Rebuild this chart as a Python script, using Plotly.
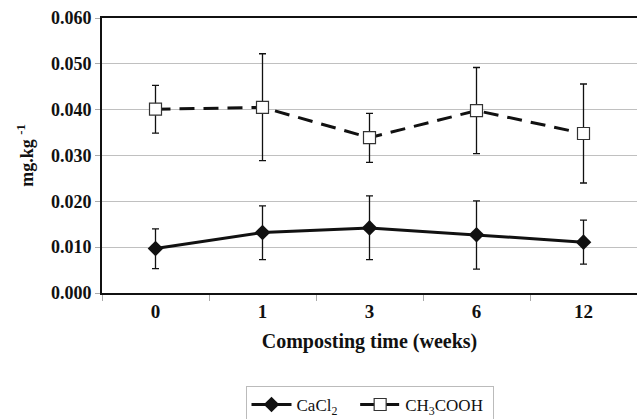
import plotly.graph_objects as go

categories = ["0", "1", "3", "6", "12"]
cacl2 = [0.0097, 0.0132, 0.0142, 0.0127, 0.0111]
cacl2_up = [0.0140, 0.0190, 0.0212, 0.0201, 0.0159]
cacl2_lo = [0.0053, 0.0073, 0.0073, 0.0052, 0.0063]
ch3 = [0.0401, 0.0405, 0.0339, 0.0398, 0.0348]
ch3_up = [0.0453, 0.0522, 0.0392, 0.0492, 0.0456]
ch3_lo = [0.0349, 0.0289, 0.0285, 0.0304, 0.0240]
yticks = [0.0, 0.01, 0.02, 0.03, 0.04, 0.05, 0.06]

serif = "Liberation Serif, Times New Roman, serif"

fig = go.Figure()
fig.add_trace(go.Scatter(
    x=categories, y=cacl2, name="CaCl<sub>2</sub>&nbsp;&nbsp;&nbsp;", mode="lines+markers",
    line=dict(color="#111111", width=3),
    marker=dict(symbol="diamond", size=12, color="#111111"),
    error_y=dict(type="data", symmetric=False,
                 array=[u - v for u, v in zip(cacl2_up, cacl2)],
                 arrayminus=[v - l for v, l in zip(cacl2, cacl2_lo)],
                 color="#111111", thickness=1.3, width=3.5),
))
fig.add_trace(go.Scatter(
    x=categories, y=ch3, name="CH<sub>3</sub>COOH&nbsp;", mode="lines+markers",
    line=dict(color="#111111", width=3, dash="15px,9px"),
    marker=dict(symbol="square", size=12, color="white",
                line=dict(color="#333333", width=1.2)),
    error_y=dict(type="data", symmetric=False,
                 array=[u - v for u, v in zip(ch3_up, ch3)],
                 arrayminus=[v - l for v, l in zip(ch3, ch3_lo)],
                 color="#111111", thickness=1.3, width=3.5),
))

fig.update_layout(
    width=637, height=419,
    margin=dict(l=102, r=0, t=18, b=126, autoexpand=False),
    paper_bgcolor="white", plot_bgcolor="white",
    font=dict(family=serif, color="#111111"),
    showlegend=True,
    legend=dict(orientation="h", x=0.5, xanchor="center", y=-0.338, yanchor="top",
                bordercolor="#bbbbbb", borderwidth=1,
                font=dict(size=17, family=serif, color="#111111"),
                itemwidth=40, tracegroupgap=0),
    xaxis=dict(
        type="category", range=[-0.5, 4.5],
        tickson="boundaries", ticks="outside", ticklen=6, tickcolor="#aaaaaa",
        showgrid=False, showline=True, linecolor="#111111", linewidth=2, mirror=True,
        tickfont=dict(size=19, family=serif, color="#111111", weight="bold"),
        title=dict(text="<b>Composting time (weeks)</b>", font=dict(size=20, family=serif),
                   standoff=13),
        automargin=False,
    ),
    yaxis=dict(
        range=[0, 0.06], tickvals=yticks, tickformat=".3f",
        ticks="outside", ticklen=5, tickcolor="#aaaaaa",
        showgrid=True, gridcolor="#c0c0c0", gridwidth=1,
        showline=True, linecolor="#111111", linewidth=2, mirror=False,
        zeroline=False,
        tickfont=dict(size=18, family=serif, color="#111111", weight="bold"),
        title=dict(text="<b>mg.kg <sup>-1</sup></b>", font=dict(size=18, family=serif),
                   standoff=13),
        automargin=False,
    ),
)

fig.write_html("out.html", config={"displayModeBar": False},
               post_script="document.body.style.margin='0';document.body.style.overflow='hidden';")
